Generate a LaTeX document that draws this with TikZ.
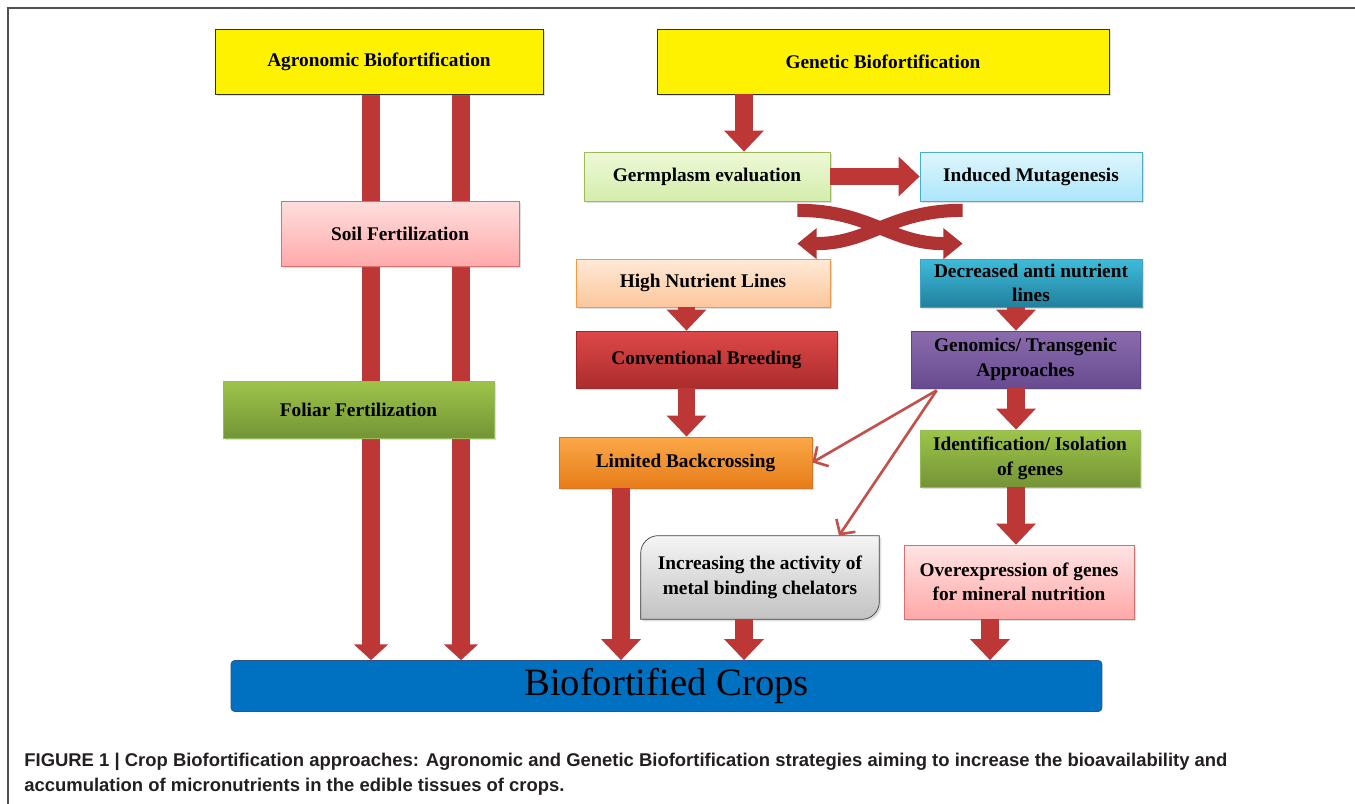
\documentclass[tikz,border=0pt]{standalone}
\usepackage{fontspec}
\setmainfont{Liberation Serif}
\newfontfamily\capfont{Liberation Sans}
\usetikzlibrary{calc}
\usetikzlibrary{positioning, backgrounds}
\usetikzlibrary{arrows.meta, shadows}

\definecolor{arrowred}{RGB}{190,55,55}
\definecolor{linkred}{RGB}{196,80,77}
\definecolor{framegray}{RGB}{80,80,80}
\definecolor{captiongray}{RGB}{35,31,32}
\definecolor{cropblue}{RGB}{0,112,192}

\begin{document}
\begin{tikzpicture}[x=0.02cm, y=-0.02cm, >=latex,
    every node/.style={font=\fontsize{11}{14}\selectfont\bfseries},
    box/.style={draw, rectangle, align=center, inner sep=2pt,
        drop shadow={opacity=0.25, shadow xshift=1.2pt, shadow yshift=-1.2pt}},
    fatarrow/.style={draw=arrowred, line width=10pt, -{Triangle[width=22pt,length=12pt]}},
    bararrow/.style={draw=arrowred, line width=10pt, -{Triangle[width=19pt,length=9pt]}},
    twistarrow/.style={draw=arrowred!92!black, line width=7.5pt, -{Triangle[width=17pt,length=11pt]}},
    thinred/.style={draw=linkred, line width=1.5pt, -{Straight Barb[length=6pt,width=13pt]}}]
        \useasboundingbox (0,0) rectangle (1355,804);
        % Frame
        \coordinate (frameTL) at (8,8);
        \draw[framegray, line width=1.2pt] (1355,8) -- (frameTL) -- (8,804);

        % The two approaches
        \node[box, fill=yellow, draw=black!80, minimum width=6.56cm, minimum height=1.3cm] (agro) at (379,61.5) {Agronomic Biofortification};
        \node[box, fill=yellow, draw=black!80, minimum width=9.04cm, minimum height=1.3cm] (gen) at (883,61.5) {Genetic Biofortification};

        % Agronomic side
        \node[box, draw={rgb,255:red,220;green,110;blue,110}, top color={rgb,255:red,255;green,222;blue,222}, bottom color={rgb,255:red,255;green,170;blue,170}, minimum width=4.76cm, minimum height=1.3cm] (soil) at (400,233.5) {Soil Fertilization};
        \node[box, draw={rgb,255:red,150;green,185;blue,90}, top color={rgb,255:red,158;green,196;blue,74}, bottom color={rgb,255:red,116;green,148;blue,54}, minimum width=5.42cm, minimum height=1.14cm] (foliar) at (358.5,409.5) {Foliar Fertilization};

        % Genetic side, first rows
        \node[box, draw={rgb,255:red,155;green,187;blue,89}, top color={rgb,255:red,238;green,249;blue,215}, bottom color={rgb,255:red,212;green,237;blue,172}, minimum width=4.92cm, minimum height=0.98cm] (germ) at (707,176.5) {Germplasm evaluation};
        \node[box, draw={rgb,255:red,75;green,172;blue,198}, top color={rgb,255:red,222;green,246;blue,253}, bottom color={rgb,255:red,172;green,230;blue,250}, minimum width=4.44cm, minimum height=0.98cm] (induced) at (1031,176.5) {Induced Mutagenesis};
        \node[box, draw={rgb,255:red,247;green,150;blue,70}, top color={rgb,255:red,255;green,234;blue,215}, bottom color={rgb,255:red,252;green,198;blue,156}, minimum width=5.08cm, minimum height=0.96cm] (highnut) at (703,283) {High Nutrient Lines};
        \node[box, draw={rgb,255:red,70;green,160;blue,190}, top color={rgb,255:red,62;green,188;blue,218}, bottom color={rgb,255:red,33;green,128;blue,158}, minimum width=4.44cm, minimum height=0.96cm] (decreased) at (1031,283) {Decreased anti nutrient\\lines};

        % Breeding and transgenic rows
        \node[box, draw={rgb,255:red,160;green,40;blue,40}, top color={rgb,255:red,222;green,72;blue,72}, bottom color={rgb,255:red,172;green,44;blue,44}, minimum width=5.22cm, minimum height=1.14cm] (conv) at (706.5,359.5) {Conventional Breeding};
        \node[box, draw={rgb,255:red,95;green,70;blue,130}, top color={rgb,255:red,138;green,108;blue,174}, bottom color={rgb,255:red,104;green,74;blue,144}, minimum width=4.58cm, minimum height=1.14cm] (genomics) at (1025.5,359.5) {Genomics/ Transgenic\\Approaches};
        \node[box, draw={rgb,255:red,210;green,120;blue,40}, top color={rgb,255:red,251;green,168;blue,72}, bottom color={rgb,255:red,230;green,124;blue,24}, minimum width=5.06cm, minimum height=1.02cm] (limited) at (685.5,462.5) {Limited Backcrossing};
        \node[box, draw={rgb,255:red,150;green,185;blue,90}, top color={rgb,255:red,158;green,196;blue,74}, bottom color={rgb,255:red,116;green,148;blue,54}, minimum width=4.40cm, minimum height=1.14cm] (ident) at (1030,458.5) {Identification/ Isolation\\of genes};

        % Last row
        \node[align=center, minimum width=4.76cm, minimum height=1.66cm] (chel) at (760,577.5) {Increasing the activity of\\metal binding chelators};
        \node[box, draw={rgb,255:red,220;green,110;blue,110}, top color={rgb,255:red,255;green,228;blue,228}, bottom color={rgb,255:red,255;green,168;blue,168}, minimum width=4.60cm, minimum height=1.48cm] (overexp) at (1019,582) {Overexpression of genes\\for mineral nutrition};

        % Result
        \node[draw={rgb,255:red,50;green,80;blue,140}, fill=cropblue, rounded corners=2pt, minimum width=17.42cm, minimum height=1.02cm, font=\fontsize{22}{24}\selectfont] (crops) at (666.5,686) {Biofortified Crops};

        % Caption
        \node[anchor=north west, inner sep=0pt, align=left, text=captiongray, font=\capfont\bfseries\fontsize{10.5}{14.2}\selectfont] (caption) at (24,753) {FIGURE 1 | Crop Biofortification approaches: Agronomic and Genetic Biofortification strategies aiming to increase the bioavailability and\\accumulation of micronutrients in the edible tissues of crops.};

        % Chelator box outline, two round corners
        \begin{scope}[on background layer]
            \draw[draw=black!75, top color=black!4, bottom color=black!24, drop shadow={opacity=0.25, shadow xshift=1.2pt, shadow yshift=-1.2pt}] (chel.south west) [rounded corners=10pt] -- (chel.north west) [sharp corners] -- (chel.north east) [rounded corners=10pt] -- (chel.south east) [sharp corners] -- cycle;
        \end{scope}

        % Agronomic bars behind the boxes
        \coordinate (bar1) at ($(agro.south)+(-8,0)$);
        \coordinate (bar2) at ($(agro.south)+(82,0)$);
        \begin{scope}[on background layer]
            \draw[bararrow] (bar1) -- (bar1 |- crops.north);
            \draw[bararrow] (bar2) -- (bar2 |- crops.north);
        \end{scope}

        % Genetic -> Germplasm -> Induced
        \coordinate (g1) at ($(germ.north)+(37,0)$);
        \draw[fatarrow] (g1 |- gen.south) -- (g1);
        \draw[fatarrow] (germ.east) -- (induced.west);

        % Crossing arrows
        \draw[twistarrow] ($(induced.south west)+(43,9)$) .. controls +(-73,0) and +(73,0) .. ($(highnut.north east)+(-33,-15)$);
        \draw[twistarrow] ($(germ.south east)+(-33,9)$) .. controls +(73,0) and +(-73,0) .. ($(decreased.north west)+(43,-15)$);

        % Breeding branch
        \coordinate (c1) at ($(conv.north)+(-20,0)$);
        \draw[fatarrow] (c1 |- highnut.south) -- (c1);
        \draw[fatarrow] (c1 |- conv.south) -- (c1 |- limited.north);

        % Transgenic branch
        \coordinate (d1) at ($(genomics.north)+(-9.5,0)$);
        \draw[fatarrow] (d1 |- decreased.south) -- (d1);
        \draw[fatarrow] (d1 |- genomics.south) -- (d1 |- ident.north);
        \draw[fatarrow] (d1 |- ident.south) -- (d1 |- overexp.north);

        % Thin links from Genomics
        \coordinate (gs) at ($(genomics.south west)+(26,2)$);
        \draw[thinred] (gs) -- (limited.east);
        \draw[thinred] (gs) -- ($(chel.north)+(79,0)$);

        % Into Biofortified Crops
        \coordinate (l1) at ($(limited.south)+(-64.5,0)$);
        \coordinate (ch1) at ($(chel.south)+(-16,0)$);
        \coordinate (o1) at ($(overexp.south)+(-29,0)$);
        \draw[fatarrow] (l1) -- (l1 |- crops.north);
        \draw[fatarrow] (ch1) -- (ch1 |- crops.north);
        \draw[fatarrow] (o1) -- (o1 |- crops.north);
\end{tikzpicture}
\end{document}
